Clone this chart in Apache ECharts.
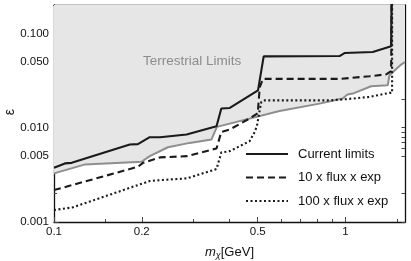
<!DOCTYPE html>
<html><head><meta charset="utf-8">
<script src="https://cdn.jsdelivr.net/npm/echarts@6/dist/echarts.min.js"></script>
<style>html,body{margin:0;padding:0;background:#fff}#c{width:411px;height:261px}</style>
</head><body><div id="c"></div>
<script>
// ---- data (GeV, epsilon) ----
const currentX = [0.1, 0.109, 0.115, 0.182, 0.194, 0.213, 0.231, 0.285, 0.361, 0.375, 0.401, 0.501, 0.524, 0.954, 0.992, 1.24, 1.434, 1.445, 1.445];
const currentY = [0.00376, 0.00418, 0.00424, 0.00664, 0.00669, 0.00793, 0.00793, 0.00847, 0.01037, 0.01597, 0.0162, 0.0249, 0.0571, 0.0575, 0.0619, 0.0634, 0.0729, 0.0729, 1];
const tenX = [0.1, 0.113, 0.194, 0.202, 0.231, 0.285, 0.361, 0.375, 0.401, 0.469, 0.50, 0.508, 0.521, 0.954, 1.208, 1.379, 1.434, 1.445, 1.445];
const tenY = [0.00218, 0.00242, 0.00385, 0.00424, 0.00484, 0.00499, 0.00603, 0.00903, 0.00957, 0.01252, 0.0142, 0.027, 0.0329, 0.0329, 0.0351, 0.0368, 0.0399, 0.0399, 1];
const hundredX = [0.1, 0.116, 0.213, 0.231, 0.285, 0.361, 0.375, 0.401, 0.469, 0.488, 0.497, 0.5008, 0.5076, 0.5144, 0.524, 0.8815, 0.992, 1.208, 1.415, 1.434, 1.445, 1.445];
const hundredY = [0.00134, 0.00143, 0.00272, 0.00278, 0.0029, 0.00364, 0.00547, 0.00564, 0.0072, 0.0090, 0.0105, 0.012, 0.0153, 0.01875, 0.0195, 0.0195, 0.0200, 0.0212, 0.0234, 0.0234, 0.0234, 1];
const terrX = [0.1, 0.128, 0.1997, 0.213, 0.246, 0.292, 0.347, 0.362, 0.594, 0.8147, 0.977, 1.016, 1.059, 1.224, 1.396, 1.415, 1.552, 1.6];
const terrY = [0.00328, 0.00408, 0.00435, 0.0050, 0.0062, 0.0069, 0.0075, 0.0102, 0.0150, 0.0180, 0.0204, 0.0225, 0.0230, 0.0275, 0.0282, 0.0360, 0.0467, 0.0497];

const seriesNames = ['Current limits', '10 x flux x exp', '100 x flux x exp'];
const areaLabel = 'Terrestrial Limits';
const yTitle = 'ε';

const xTicksMajor = [0.1, 0.2, 0.5, 1];
const xTickLabels = ['0.1', '0.2', '0.5', '1'];
const xTicksMinor = [0.15, 0.3, 0.4, 0.6, 0.7, 0.8, 0.9, 1.5];
const yTicksMajor = [0.001, 0.005, 0.01, 0.05, 0.1];
const yTickLabels = ['0.001', '0.005', '0.010', '0.050', '0.100'];
const yTicksMinor = [0.002, 0.006, 0.007, 0.008, 0.009, 0.02, 0.06, 0.07, 0.08, 0.09, 0.15];
const X_MIN = 0.1, X_MAX = 1.6, Y_MIN = 0.001, Y_MAX = 0.2;

// ---- build ----
const L = Math.log10;
const pts = (xs, ys) => xs.map((x, i) => [L(x), L(ys[i])]);
const FONT = '"Liberation Sans", Arial, sans-serif';
const fmt = (ticks, labels) => v => {
  const i = ticks.findIndex(t => Math.abs(L(t) - v) < 1e-6);
  return i >= 0 ? labels[i] : '';
};

function axis(kind, pos, ticks, len, withLine, labelCfg, extra) {
  const isX = kind === 'x';
  return Object.assign({
    type: 'value',
    position: pos,
    min: L(isX ? X_MIN : Y_MIN),
    max: L(isX ? X_MAX : Y_MAX),
    splitLine: { show: false },
    axisLine: { show: withLine, onZero: false, lineStyle: { color: '#111', width: 1.3 } },
    axisTick: { show: true, inside: true, length: len, customValues: ticks.map(L),
                lineStyle: { color: '#444', width: 1 } },
    axisLabel: labelCfg || { show: false }
  }, extra || {});
}

const chart = echarts.init(document.getElementById('c'), null, { renderer: 'canvas' });
const option = {
  animation: false,
  backgroundColor: '#fff',
  grid: { left: 54, right: 6, top: 5, bottom: 39, containLabel: false, outerBoundsMode: 'none' },
  xAxis: [
    axis('x', 'bottom', xTicksMajor, 5, true, {
      show: true, customValues: xTicksMajor.map(L), formatter: fmt(xTicksMajor, xTickLabels),
      color: '#111', fontSize: 11.5, fontFamily: FONT, margin: 4
    }, {
      name: '{i|m}{s|χ}{n|[GeV]}', nameLocation: 'middle', nameGap: 22, nameMoveOverlap: false,
      nameTextStyle: { rich: {
        i: { fontStyle: 'italic', fontSize: 13, fontFamily: FONT, color: '#111' },
        s: { fontStyle: 'italic', fontSize: 9, fontFamily: FONT, color: '#111', padding: [7, 0, 0, 0] },
        n: { fontSize: 13, fontFamily: FONT, color: '#111' }
      } }
    }),
    axis('x', 'bottom', xTicksMinor, 3, false),
    axis('x', 'top', xTicksMajor.concat(xTicksMinor), 3.5, true)
  ],
  yAxis: [
    axis('y', 'left', yTicksMajor, 5, true, {
      show: true, customValues: yTicksMajor.map(L), formatter: fmt(yTicksMajor, yTickLabels),
      color: '#111', fontSize: 11.5, fontFamily: FONT, margin: 5
    }),
    axis('y', 'left', yTicksMinor, 3, false),
    axis('y', 'right', yTicksMajor.concat(yTicksMinor), 3.5, true)
  ],
  legend: {
    data: seriesNames,
    orient: 'vertical', left: 245, top: 147.5, padding: 0,
    itemWidth: 42, itemHeight: 14, itemGap: 10.5,
    itemStyle: { color: 'rgba(0,0,0,0)', borderWidth: 0, opacity: 0 },
    textStyle: { fontSize: 13, fontFamily: FONT, color: '#111', padding: [0, 0, 0, 5] }
  },
  graphic: [{
    type: 'text', left: 143, top: 54, z: 10,
    style: { text: areaLabel, font: '13.5px ' + FONT, fill: '#8c8c8c' }
  }, {
    type: 'text', left: 3, top: 109, rotation: Math.PI / 2, z: 10,
    style: { text: yTitle, font: '14px ' + FONT, fill: '#111' }
  }],
  series: [
    {
      name: areaLabel, type: 'line', data: pts(terrX, terrY), showSymbol: false, symbol: 'none',
      lineStyle: { color: '#8e8e8e', width: 2 },
      areaStyle: { origin: 'end', color: '#e6e6e6', opacity: 1 },
      z: 1, silent: true
    },
    {
      name: seriesNames[0], type: 'line', data: pts(currentX, currentY), symbol: 'none',
      lineStyle: { color: '#1a1a1a', width: 2.1 }, itemStyle: { color: '#1a1a1a' }, z: 4
    },
    {
      name: seriesNames[1], type: 'line', data: pts(tenX, tenY), symbol: 'none',
      lineStyle: { color: '#1a1a1a', width: 2.1, type: [7, 4] }, itemStyle: { color: '#1a1a1a' }, z: 4
    },
    {
      name: seriesNames[2], type: 'line', data: pts(hundredX, hundredY), symbol: 'none',
      lineStyle: { color: '#1a1a1a', width: 2.1, type: [2, 2.5] }, itemStyle: { color: '#1a1a1a' }, z: 4
    }
  ]
};
chart.setOption(option);
</script>
</body></html>
